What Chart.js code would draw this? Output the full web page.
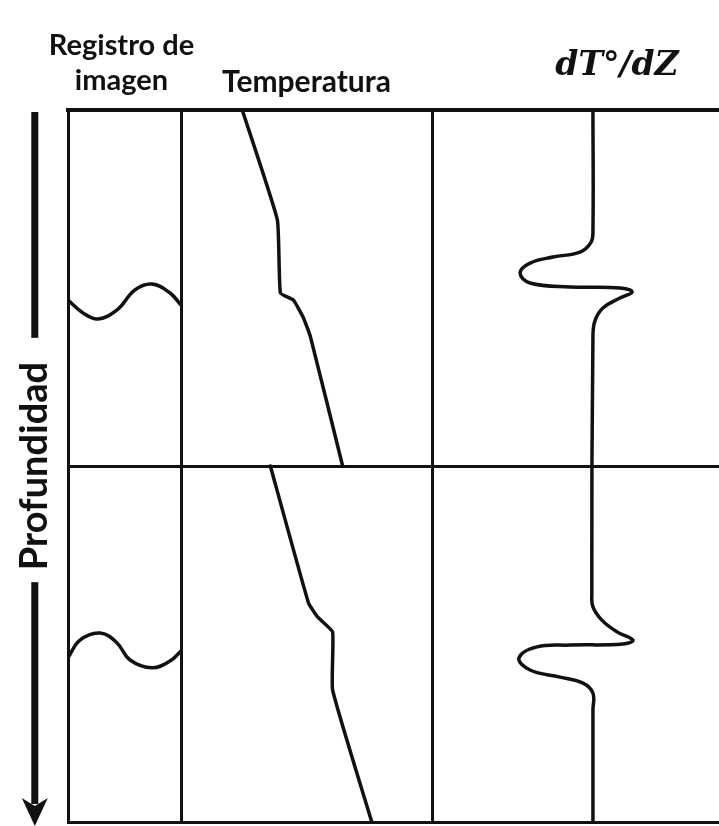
<!DOCTYPE html>
<html lang="es">
<head>
<meta charset="utf-8">
<title>Registro de temperatura</title>
<script src="https://cdn.jsdelivr.net/npm/chart.js@4.4.1/dist/chart.umd.min.js"></script>
<style>
  html, body { margin: 0; padding: 0; background: #fff; overflow: hidden; }
  #marco { width: 719px; height: 826px; overflow: hidden; }
  #perfil { display: block; }
</style>
</head>
<body>
<div id="marco"><canvas id="perfil" width="802" height="826"></canvas></div>
<script>
// profundidad 0-200 (dos tramos iguales), pares [valor, profundidad]
var imagenSup = [[0, 53.4], [1.33, 57.0], [2.65, 58.7], [4.4, 56.0], [5.9, 50.6], [7.43, 48.9], [9.03, 51.4], [10, 54.8]];
var imagenInf = [[0, 153.9], [1.06, 148.9], [2.83, 146.9], [4.34, 149.7], [5.49, 154.5], [7.43, 156.7], [9.03, 154.8], [10, 152.0]];

var tempSup = [[26.1, 0], [29.6, 30.9], [29.9, 51.4], [31.2, 53.4], [32.2, 58.4], [32.9, 63.8], [36.1, 100]];
var tempInf = [[28.9, 100], [32.7, 138.5], [33.6, 142.4], [35.1, 146.6], [35.1, 162.9], [39.0, 200]];

var gradiente = [
    [4.35, 0], [4.35, 33.7], [4.30, 37.1], [4.00, 39.9], [3.27, 41.3], [2.65, 43.0], [2.38, 45.8],
    [2.65, 48.6], [3.73, 49.7], [5.08, 50.0], [5.41, 51.1], [5.08, 52.8], [4.62, 55.6], [4.41, 59.0],
    [4.35, 63.2], [4.32, 135.7], [4.35, 139.6], [4.59, 143.3], [5.0, 146.6], [5.43, 148.9], [5.16, 150.0],
    [3.73, 150.3], [2.84, 150.8], [2.35, 153.9], [2.65, 157.3], [3.46, 159.3], [4.08, 161.0], [4.35, 163.8],
    [4.35, 168.5], [4.35, 200]
];

var tituloImagen = ['Registro de', 'imagen'];
var tituloTemp = 'Temperatura';
var tituloGrad = 'dT°/dZ';
var tituloProf = 'Profundidad';

var negro = '#111';
var familia = 'Lato, "Open Sans", sans-serif';
var fuenteEtiqueta = { family: familia, weight: 'bold', size: 29, lineHeight: 1.22 };
var fuenteTemp = { family: familia, weight: 'bold', size: 30, lineHeight: 1.2 };
var fuenteGrad = { family: '"DejaVu Serif", serif', weight: 'bold', style: 'italic', size: 33, lineHeight: 1.2 };
var fuenteProf = { family: familia, weight: 'bold', size: 38, lineHeight: 1.2 };
var padImagen = 28;
var padProf = 12;

function puntos(arr) {
    return arr.map(function (p) { return { x: p[0], y: p[1] }; });
}

// las tres pistas van apiladas en el borde superior; el weight mas alto queda a la izquierda
function pista(orden, min, max, peso, titulo, fuente, padTop) {
    return {
        type: 'linear',
        position: 'top',
        stack: 'pistas',
        stackWeight: peso,
        weight: orden,
        min: min,
        max: max,
        ticks: { display: false, stepSize: max - min },
        grid: { color: negro, lineWidth: 3, drawTicks: false },
        border: { display: true, color: negro, width: 4 },
        title: { display: !!titulo, text: titulo || '', color: negro, font: fuente, padding: { top: padTop, bottom: 0 } },
        afterFit: function (s) { s.height = 110; }
    };
}

// el titulo de la pista de imagen es mas ancho que la pista: se dibuja aparte, sin comprimir
var encabezadoImagen = {
    id: 'encabezadoImagen',
    afterDraw: function (chart) {
        var s = chart.scales.xImg;
        var ctx = chart.ctx;
        var lh = fuenteEtiqueta.size * fuenteEtiqueta.lineHeight;
        ctx.save();
        ctx.font = 'bold ' + fuenteEtiqueta.size + 'px ' + familia;
        ctx.fillStyle = negro;
        ctx.textAlign = 'center';
        ctx.textBaseline = 'middle';
        tituloImagen.forEach(function (t, i) {
            ctx.fillText(t, (s.left + s.right) / 2 - 3, s.top + padImagen + lh / 2 + i * lh);
        });
        ctx.restore();
    }
};

// flecha de profundidad a ambos lados del titulo del eje
var flechaProfundidad = {
    id: 'flechaProfundidad',
    afterDraw: function (chart) {
        var y = chart.scales.y;
        var ctx = chart.ctx;
        var cx = y.left + padProf + fuenteProf.size * fuenteProf.lineHeight / 2;
        ctx.save();
        ctx.font = 'bold ' + fuenteProf.size + 'px ' + fuenteProf.family;
        var w = ctx.measureText(tituloProf).width;
        var mid = (y.top + y.bottom) / 2;
        var H = chart.height;
        var finSup = mid - w / 2 - 24;
        var iniInf = mid + w / 2 + 12;
        ctx.fillStyle = negro;
        ctx.fillRect(cx - 3.5, y.top + 2, 7, finSup - (y.top + 2));
        ctx.fillRect(cx - 3.5, iniInf, 7, H - 22 - iniInf);
        ctx.beginPath();
        ctx.moveTo(cx - 13, H - 28);
        ctx.lineTo(cx, H - 20);
        ctx.lineTo(cx + 13, H - 28);
        ctx.lineTo(cx, H);
        ctx.closePath();
        ctx.fill();
        ctx.restore();
    }
};

var perfil = document.getElementById('perfil').getContext('2d');

var chart = new Chart(perfil, {
    type: 'scatter',
    data: {
        datasets: [
            { data: puntos(imagenSup), xAxisID: 'xImg', tension: 0.4 },
            { data: puntos(imagenInf), xAxisID: 'xImg', tension: 0.4 },
            { data: puntos(tempSup), xAxisID: 'xTemp', tension: 0.12 },
            { data: puntos(tempInf), xAxisID: 'xTemp', tension: 0.12 },
            { data: puntos(gradiente), xAxisID: 'xGrad', tension: 0.4 }
        ]
    },
    options: {
        responsive: false,
        animation: false,
        showLine: true,
        layout: { padding: { bottom: 4 } },
        elements: {
            point: { radius: 0, hoverRadius: 0 },
            line: { borderColor: negro, borderWidth: 3.5, fill: false, borderCapStyle: 'round', borderJoinStyle: 'round' }
        },
        plugins: {
            legend: { display: false },
            tooltip: { enabled: false }
        },
        scales: {
            xImg: pista(2, 0, 10, 113, null, fuenteEtiqueta, padImagen),
            xTemp: pista(1, 20, 45, 251, tituloTemp, fuenteTemp, 64),
            xGrad: pista(0, 0, 10, 370, tituloGrad, fuenteGrad, 47),
            y: {
                type: 'linear',
                position: 'left',
                reverse: true,
                min: 0,
                max: 200,
                ticks: { display: false, stepSize: 100 },
                grid: { color: negro, lineWidth: 3, drawTicks: false },
                border: { color: negro, width: 3 },
                title: { display: true, text: tituloProf, color: negro, font: fuenteProf, padding: { top: padProf, bottom: 0 } },
                afterFit: function (s) { s.width = 68; }
            }
        }
    },
    plugins: [encabezadoImagen, flechaProfundidad]
});
</script>
</body>
</html>
